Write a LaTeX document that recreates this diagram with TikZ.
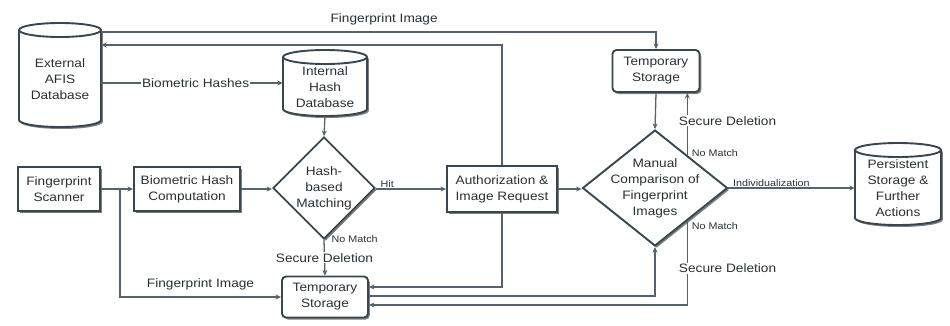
\documentclass[tikz,border=0pt]{standalone}
\usepackage{fontspec}
\setmainfont{Liberation Sans}[FakeStretch=1.12]
\usetikzlibrary{shapes.geometric,shadows,arrows.meta,calc}
\definecolor{edgec}{HTML}{56636C}
\definecolor{boxc}{HTML}{3A464E}
\definecolor{txtc}{HTML}{2A3034}
\newcommand{\myNodeFont}{\fontsize{12.2}{16}\selectfont}
\newcommand{\myLblFont}{\fontsize{12.2}{15}\selectfont}
\newcommand{\mySmallFont}{\fontsize{9.6}{11}\selectfont}
% cylinder: name, cx, cy, w, h, text
\newcommand{\dbcyl}[6]{%
  \pgfmathsetmacro{\dbL}{#2-#4/2}%
  \pgfmathsetmacro{\dbR}{#2+#4/2}%
  \pgfmathsetmacro{\dbT}{#3-#5/2}%
  \pgfmathsetmacro{\dbB}{#3+#5/2}%
  \pgfmathsetmacro{\dbRX}{#4/2}%
  \path[cylpath] (\dbL,\dbT+7) -- (\dbL,\dbB-7)
     arc[start angle=180,end angle=0,x radius=\dbRX,y radius=7]
     -- (\dbR,\dbT+7)
     arc[start angle=0,end angle=-180,x radius=\dbRX,y radius=7] -- cycle;
  \draw[cylrim] (\dbL,\dbT+7) arc[start angle=180,end angle=0,x radius=\dbRX,y radius=7];
  \node[anchorbox, minimum width=#4pt, minimum height=#5pt] (#1) at (#2,#3) {};
  \node[txt] (#1txt) at (#2,#3+4) {#6};
}
\begin{document}
\begin{tikzpicture}[x=1pt,y=-1pt,
  font=\myNodeFont,
  shadowed/.style={drop shadow={shadow xshift=1.8pt,shadow yshift=-2pt,fill=black,opacity=0.5}},
  procbox/.style={rectangle, draw=boxc, line width=1.9pt, fill=white, shadowed, align=center, text=txtc, inner sep=1pt},
  tempbox/.style={procbox, rounded corners=4pt},
  decision/.style={diamond, draw=boxc, line width=1.9pt, fill=white, shadowed, inner sep=0pt},
  cylpath/.style={draw=boxc, line width=1.9pt, fill=white, shadowed},
  cylrim/.style={draw=boxc, line width=1.9pt},
  anchorbox/.style={rectangle, inner sep=0pt, draw=none},
  txt/.style={align=center, text=txtc, inner sep=0pt},
  conn/.style={draw=edgec, line width=1.3pt, -{Stealth[length=5.5pt,width=5pt]}},
  lbl/.style={text=txtc, inner sep=1pt, font=\myLblFont},
  slbl/.style={text=txtc, inner sep=1pt, font=\mySmallFont}]
\useasboundingbox (0,0) rectangle (950,325);

% databases
\dbcyl{ext}{60}{75}{82}{104}{External\\AFIS\\Database}
\dbcyl{intdb}{325}{83}{84}{66}{Internal\\Hash\\Database}
\dbcyl{persist}{898}{184}{86}{82}{Persistent\\Storage \&\\Further\\Actions}

% process boxes
\node[procbox, minimum width=82pt, minimum height=44pt] (scanner) at (59,189) {Fingerprint\\Scanner};
\node[procbox, minimum width=106pt, minimum height=44pt] (bhc) at (187,189) {Biometric Hash\\Computation};
\node[procbox, minimum width=110pt, minimum height=46pt] (auth) at (502,189) {Authorization \&\\Image Request};
\node[tempbox, minimum width=87pt, minimum height=42pt] (tempTop) at (656,71) {Temporary\\Storage};
\node[tempbox, minimum width=86pt, minimum height=41pt] (tempBot) at (325,297) {Temporary\\Storage};

% decisions
\node[decision, minimum width=102pt, minimum height=102pt] (hashm) at (324,188) {};
\node[txt] (hashmtxt) at (324,188) {Hash-\\based\\Matching};
\node[decision, minimum width=145pt, minimum height=116pt] (manual) at (655,188) {};
\node[txt] (manualtxt) at (655,188) {Manual\\Comparison of\\Fingerprint\\Images};

% helper coordinates
\coordinate (y32) at (0,32);
\coordinate (y45) at (0,45);
\coordinate (y287) at (0,287);
\coordinate (y296) at (0,296);
\coordinate (y305) at (0,305);
\coordinate (split) at (120,189);
\coordinate (mtr) at ($(manual.north)!0.44!(manual.east)$);
\coordinate (mbr) at ($(manual.south)!0.44!(manual.east)$);

% connectors
\draw[conn] (ext.east |- y32) -| (tempTop.north)
  node[lbl, above=5pt, pos=0.255] (lfp1) {Fingerprint Image};
\draw[conn] (auth.north) |- (ext.east |- y45);
\draw[conn] (ext.east |- intdb.west) -- (intdb.west)
  node[lbl, fill=white, pos=0.52] (lbh) {Biometric Hashes};
\draw[conn] (intdb.south) -- (hashm.north);
\draw[conn] (scanner.east) -- (bhc.west);
\draw[conn] (bhc.east) -- (bhc.east -| hashm.west);
\draw[conn] (hashm.east |- auth.west) -- (auth.west)
  node[slbl, anchor=south west, pos=0, xshift=3pt] (lhit) {Hit};
\draw[conn] (hashm.south) -- (tempBot.north)
  node[slbl, anchor=west, pos=0, xshift=6pt, yshift=1pt] (lnm1) {No Match}
  node[lbl, fill=white, midway] (lsd1) {Secure Deletion};
\draw[conn] (split) |- (tempBot.west)
  node[lbl, above=5pt, pos=0.75] (lfp2) {Fingerprint Image};
\draw[conn] (auth.east) -- (auth.east -| manual.west);
\draw[conn] (manual.east) -- (manual.east -| persist.west)
  node[slbl, anchor=south west, pos=0, xshift=3pt] (lind) {Individualization};
\draw[conn] (tempTop.south) -- (manual.north);
\draw[conn] (mtr) -- (mtr |- tempTop.south)
  node[slbl, anchor=west, pos=0, xshift=3pt, yshift=2pt] (lnm2) {No Match}
  node[lbl, fill=white, anchor=west, pos=0.55, xshift=-10pt] (lsd2) {Secure Deletion};
\draw[conn] (auth.south) |- (tempBot.east |- y287);
\draw[conn] (tempBot.east |- y296) -| (manual.south);
\draw[conn] (mbr) |- (tempBot.east |- y305)
  node[slbl, anchor=west, pos=0, xshift=3pt, yshift=-5pt] (lnm3) {No Match}
  node[lbl, fill=white, anchor=west, pos=0.28, xshift=-10pt] (lsd3) {Secure Deletion};
\end{tikzpicture}
\end{document}
